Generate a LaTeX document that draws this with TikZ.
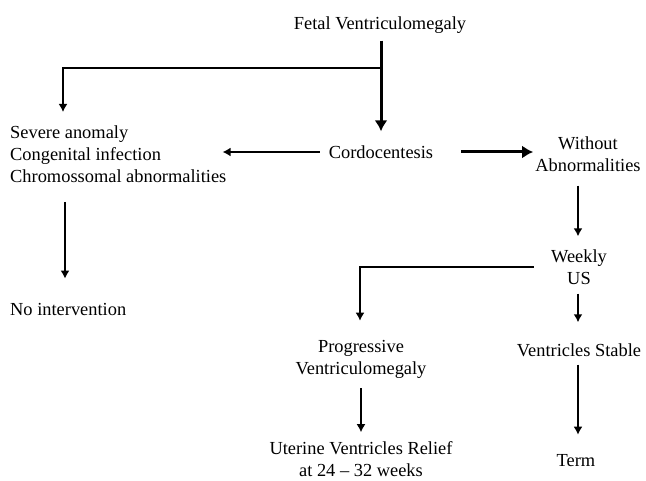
\documentclass[tikz,border=0pt]{standalone}
\usepackage{fontspec}
\setmainfont{Liberation Serif}
\usetikzlibrary{arrows.meta}
\begin{document}
\begin{tikzpicture}[x=1pt,y=-1pt,
  lbl/.style={font=\fontsize{18.4}{22}\selectfont, inner sep=0pt, align=center},
  arr/.style={-{Latex[length=8pt,width=9pt]}, line width=1.8pt},
  thk/.style={-{Latex[length=11pt,width=13pt]}, line width=3pt}]
\useasboundingbox[fill=white] (0,0) rectangle (646,481);
% nodes
\node[lbl] (fv) at (380,25) {Fetal Ventriculomegaly};
\node[lbl] (cord) at (381,152) {Cordocentesis};
\node[lbl, align=left, anchor=west] (sev) at (10,154) {Severe anomaly\\Congenital infection\\Chromossomal abnormalities};
\node[lbl, anchor=west] (noint) at (10,309) {No intervention};
\node[lbl] (wo) at (588,154) {Without\\Abnormalities};
\node[lbl] (wus) at (579,267) {Weekly\\US};
\node[lbl] (prog) at (361,359) {Progressive\\Ventriculomegaly};
\node[lbl] (stable) at (579,350) {Ventricles Stable};
\node[lbl] (relief) at (361,459) {Uterine Ventricles Relief\\at 24 -- 32 weeks};
\node[lbl] (term) at (576,461) {Term};
% helper coordinates
\coordinate (br) at (381,68);
\coordinate (sevin) at (63,112);
\coordinate (sevout) at (65,202);
% connectors
\draw[thk] ([yshift=-7pt]fv.south -| br) -- ([yshift=14pt]cord.north -| br);
\draw[arr] (br) -| (sevin);
\draw[arr] ([xshift=-9pt]cord.west) -- ([xshift=-4pt]sev.east |- cord.west);
\draw[thk] ([xshift=28pt]cord.east) -- ([xshift=-2pt]wo.west |- cord.east);
\draw[arr] ([xshift=-10pt,yshift=-14pt]wo.south) -- ([xshift=-1pt,yshift=13pt]wus.north);
\draw[arr] ([xshift=-17pt]wus.west) -| ([xshift=-1pt,yshift=19pt]prog.north);
\draw[arr] ([xshift=-1pt,yshift=-9pt]wus.south) -- ([xshift=-1pt,yshift=21pt]stable.north);
\draw[arr] ([yshift=-10pt]prog.south) -- ([yshift=9pt]relief.north);
\draw[arr] ([xshift=-1pt,yshift=-8pt]stable.south) -- ([xshift=2pt,yshift=20pt]term.north);
\draw[arr] (sevout) -- ([yshift=24pt]noint.north -| sevout);
\end{tikzpicture}
\end{document}
